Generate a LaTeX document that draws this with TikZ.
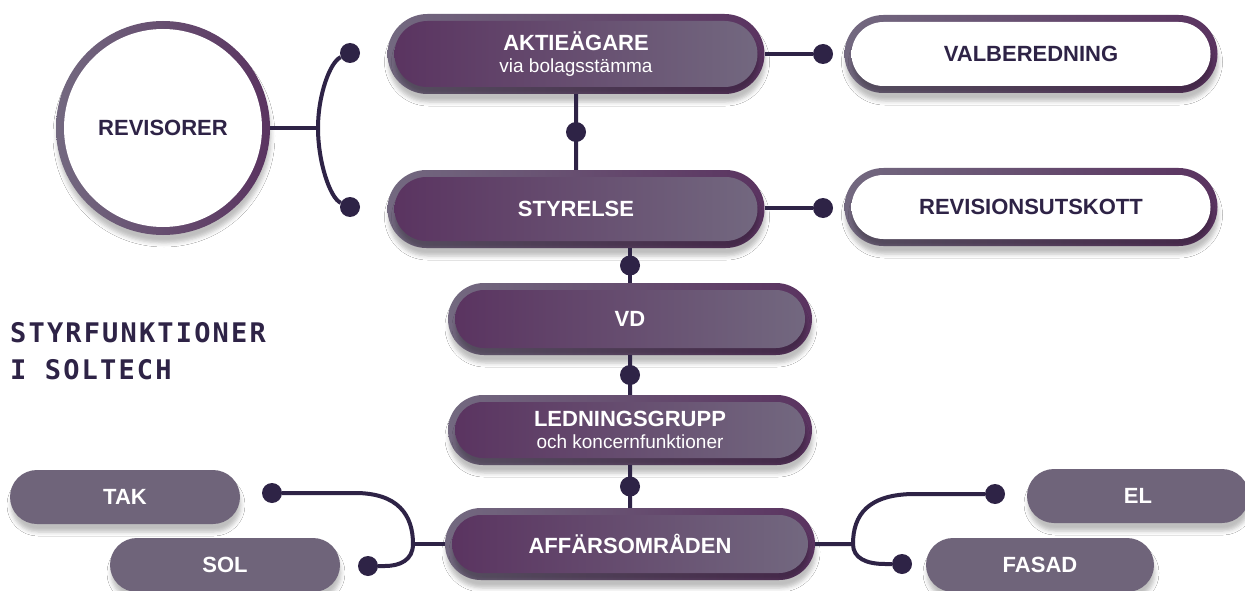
\documentclass[tikz,border=0pt]{standalone}
\usepackage{fontspec}
\setmainfont{Liberation Sans}
\newfontfamily\monofont[LetterSpace=8]{DejaVu Sans Mono}
\usetikzlibrary{shapes.misc}
\usetikzlibrary{shadows.blur}
\usetikzlibrary{calc}
\usetikzlibrary{positioning}
\definecolor{ink}{HTML}{2E2346}
\definecolor{plum}{HTML}{5A3360}
\definecolor{mauve}{HTML}{736980}
\definecolor{greypill}{HTML}{6F647A}
\newcommand\lbl{\fontsize{22}{24}\selectfont\bfseries}
\newcommand\subtxt{\fontsize{19}{20}\selectfont\mdseries}
\tikzset{
  inset/.style 2 args={path picture={
    \shade[left color=#1, right color=#2] let \p1=(path picture bounding box.south west),
      \p2=(path picture bounding box.north east), \n1={(\y2-\y1)/2-7pt} in
      [rounded corners=\n1] (\x1+7pt,\y1+7pt) rectangle (\x2-7pt,\y2-7pt);}},
  ring/.style={path picture={
    \fill[white] (path picture bounding box.center) circle[radius=#1];}}
}

\begin{document}
\begin{tikzpicture}[x=1pt, y=-1pt]
	\tikzstyle{link}=[draw=ink, line width=4pt]
	\tikzstyle{dot}=[circle, fill=ink, inner sep=0pt, minimum size=20pt]
	\tikzstyle{shade}=[blur shadow={shadow xshift=1pt, shadow yshift=-8pt,
	                        shadow blur radius=4pt, shadow opacity=25}]
	\tikzstyle{pill}=[rounded rectangle, inner sep=0pt, shade, left color=mauve,
	                        right color=plum, text=white, font=\lbl, align=center]
	\tikzstyle{mainpill}=[pill, inset={plum}{mauve}]
	\tikzstyle{whitepill}=[pill, inset={white}{white}, text=ink]
	\tikzstyle{unitpill}=[rounded rectangle, inner sep=0pt, shade, fill=greypill,
	                        text=white, font=\lbl, minimum width=230pt, minimum height=54pt]
	\fill[white] (0,0) rectangle (1245,591);
	\useasboundingbox (0,0) rectangle (1245,591);

	\node[mainpill, minimum width=377pt, minimum height=80pt] (aktie) at (576,54)
	  {AKTIEÄGARE\\[-2pt]\subtxt via bolagsstämma};
	\node[mainpill, minimum width=377pt, minimum height=78pt] (styrelse) at (576,209) {STYRELSE};
	\node[mainpill, minimum width=364pt, minimum height=72pt] (vd) at (630,319) {VD};
	\node[mainpill, minimum width=364pt, minimum height=70pt] (ledning) at (630,430)
	  {LEDNINGSGRUPP\\[-2pt]\subtxt och koncernfunktioner};
	\node[mainpill, minimum width=370pt, minimum height=72pt] (affar) at (630,544) {AFFÄRSOMRÅDEN};
	\node[whitepill, minimum width=373pt, minimum height=78pt] (valb) at (1031,54) {VALBEREDNING};
	\node[whitepill, minimum width=373pt, minimum height=78pt] (revutsk) at (1031,207) {REVISIONSUTSKOTT};
	\node[circle, inner sep=0pt, minimum size=214pt, shade, left color=mauve, right color=plum,
	  ring=99pt, text=ink, font=\lbl] (revisorer) at (163,128) {REVISORER};

	\node[unitpill] (tak) at (125,497) {TAK};
	\node[unitpill] (sol) at (225,565) {SOL};
	\node[unitpill, minimum width=222pt] (el) at (1138,496) {EL};
	\node[unitpill, minimum width=228pt] (fasad) at (1040,565) {FASAD};

	\node[anchor=north west, inner sep=0pt, align=left, text=ink,
	  font=\monofont\bfseries\fontsize{27}{37}\selectfont] (titel) at (10,322)
	  {STYRFUNKTIONER\\I SOLTECH};

	\node[dot] (dval) at (823,54) {};
	\node[dot] (drev) at (823,208) {};
	\node[dot] (dtop) at (350,53) {};
	\node[dot] (dbot) at (350,207) {};
	\node[dot] (dtak) at (272,493) {};
	\node[dot] (dsol) at (368,566) {};
	\node[dot] (del) at (995,494) {};
	\node[dot] (dfasad) at (902,564) {};
	\coordinate (brace) at (318,128);
	\coordinate (vsplit) at (413,544);
	\coordinate (hsplit) at (853,544);

	\draw[link] (aktie) -- (styrelse) node[dot, midway] (d1) {};
	\draw[link] (vd.north) -- (vd.north |- styrelse.south) node[dot, midway] (d2) {};
	\draw[link] (vd) -- (ledning) node[dot, midway] (d3) {};
	\draw[link] (ledning) -- (affar) node[dot, midway] (d4) {};
	\draw[link] (aktie.east) -- (dval);
	\draw[link] (styrelse.east |- drev) -- (drev);
	\draw[link] (revisorer.east) -- (brace);
	\draw[link] (dtop) .. controls (330,62) and (318,95) .. (brace)
	  .. controls (318,162) and (330,198) .. (dbot);
	\draw[link] (dtak) -- (355,493) .. controls (398,493) and (413,515) .. (vsplit)
	  .. controls (413,560) and (400,566) .. (385,566) -- (dsol);
	\draw[link] (vsplit) -- (affar);
	\draw[link] (del) -- (915,494) .. controls (868,494) and (853,515) .. (hsplit)
	  .. controls (853,558) and (866,564) .. (885,564) -- (dfasad);
	\draw[link] (affar) -- (hsplit);
\end{tikzpicture}
\end{document}
